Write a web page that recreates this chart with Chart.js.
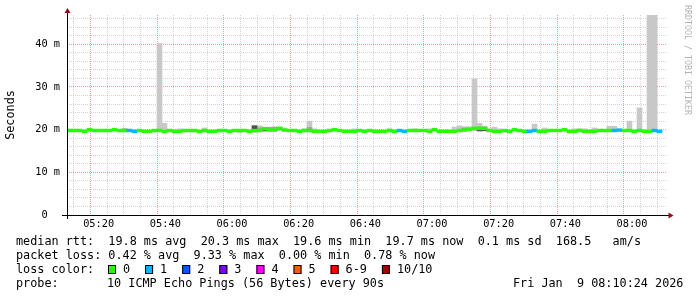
<!DOCTYPE html>
<html><head><meta charset="utf-8">
<script src="https://cdn.jsdelivr.net/npm/chart.js@4.4.1/dist/chart.umd.min.js"></script>
<style>html,body{margin:0;padding:0;background:#fff;}canvas{display:block;}</style>
</head><body>
<canvas id="c" width="697" height="297"></canvas>
<script>
// ---- data ----
const firstStep = '05:10:30';      // start of first 90 s step
const axisStart = '05:10:24';
const axisEnd = '08:10:24';
const stepMinutes = 1.5;
const xTickLabels = ['05:20','05:40','06:00','06:20','06:40','07:00','07:20','07:40','08:00'];
const xMinorEvery = 5;
const yTickValues = [0,10,20,30,40];
const yTickLabels = ['0  ','10 m','20 m','30 m','40 m'];
const yMinorEvery = 2;
const yMax = 46.87;

// median rtt per step (ms)
const median = [
 19.8,19.8,19.8,19.6,20.0,19.8,19.8,19.8,19.8,20.0,
 19.8,19.8,19.8,19.6,19.8,19.6,19.6,19.8,19.8,19.6,
 19.8,19.6,19.6,19.8,19.8,19.8,19.6,19.8,19.6,19.6,
 19.8,19.8,19.6,19.8,19.8,19.8,19.6,19.8,19.8,20.2,
 19.9,19.9,20.3,19.9,19.8,19.8,19.6,19.8,19.8,19.6,
 19.6,19.6,19.8,20.0,19.8,19.6,19.6,19.6,19.8,19.6,
 19.8,19.6,19.6,19.6,19.8,19.6,19.8,19.6,19.8,19.8,
 19.8,19.8,19.6,20.0,19.6,19.6,19.6,19.6,19.8,19.9,
 20.1,20.3,20.3,20.3,19.8,19.6,19.6,19.8,19.6,20.0,
 19.8,19.6,19.6,19.8,19.6,19.6,19.8,19.8,19.8,20.0,
 19.6,19.6,19.8,19.6,19.6,19.6,19.8,19.8,19.8,19.8,
 19.9,19.8,19.8,19.6,19.8,19.6,19.6,19.8,19.6];
// lost pings (of 10) per step
const loss = [
 0,0,0,0,0,0,0,0,0,0,
 0,0,1,1,0,0,0,0,0,0,
 0,0,0,0,0,0,0,0,0,0,
 0,0,0,0,0,0,0,0,0,0,
 0,0,0,0,0,0,0,0,0,0,
 0,0,0,0,0,0,0,0,0,0,
 0,0,0,0,0,0,1,1,0,0,
 0,0,0,0,0,0,0,0,0,0,
 0,0,0,0,0,0,0,0,0,0,
 0,0,1,1,0,0,0,0,0,0,
 0,0,0,0,0,0,0,0,0,1,
 1,0,0,0,0,0,0,1,1];
// smoke: fastest / slowest ping per step (ms)
const smokeLo = [
 19.7,19.7,19.7,19.5,19.9,19.7,19.7,19.7,19.7,19.9,
 19.7,19.7,19.7,19.5,19.7,19.5,19.5,19.7,19.7,19.5,
 19.7,19.5,19.5,19.7,19.7,19.7,19.5,19.7,19.5,19.5,
 19.7,19.7,19.5,19.7,19.3,19.7,19.4,19.4,19.6,19.7,
 19.8,19.8,19.8,19.8,19.7,19.7,19.5,19.7,19.7,19.5,
 19.5,19.5,19.7,19.9,19.7,19.5,19.5,19.5,19.7,19.5,
 19.7,19.5,19.5,19.5,19.7,19.5,19.7,19.5,19.7,19.7,
 19.7,19.7,19.5,19.9,19.5,19.5,19.5,19.5,19.7,19.8,
 19.8,19.8,19.7,19.7,19.7,19.5,19.5,19.7,19.5,19.9,
 19.7,19.5,19.5,19.7,19.5,19.5,19.7,19.7,19.7,19.9,
 19.5,19.5,19.7,19.5,19.5,19.5,19.7,19.7,19.7,19.7,
 19.8,19.7,19.7,19.5,19.7,19.5,19.5,19.7,19.5];
const smokeHi = [
 19.9,20.1,19.9,19.7,20.1,19.9,19.9,19.9,19.9,20.1,
 19.9,20.2,20.1,19.7,19.9,19.7,19.7,19.9,40.2,21.5,
 19.9,19.7,20.2,19.9,19.9,19.9,19.7,20.4,19.7,19.7,
 19.9,19.9,19.7,19.9,19.9,19.9,20.0,21.0,20.9,20.6,
 20.6,20.6,20.6,20.4,19.9,19.9,19.7,20.2,22.0,20.2,
 19.7,19.7,19.9,20.1,19.9,19.7,19.7,20.2,19.9,19.7,
 19.9,19.7,19.7,19.7,20.2,19.7,19.9,19.7,19.9,20.2,
 19.9,19.9,20.2,20.2,19.7,19.7,19.7,20.6,20.9,20.7,
 20.7,31.9,21.5,20.8,20.2,20.6,20.2,19.9,19.7,20.1,
 19.9,19.7,19.7,21.3,19.7,20.4,19.9,19.9,19.9,20.1,
 19.7,20.2,20.2,20.2,19.7,20.4,19.9,19.9,20.8,20.8,
 20.0,19.9,22.0,19.7,25.1,19.7,47.0,47.0,19.7];
// denser inner smoke bands
const midStep = [11,38,40,41,42,48,79,82,83];
const midLo   = [19.8,19.7,19.8,19.8,19.9,19.7,19.8,19.8,19.8];
const midHi   = [20.2,20.4,20.5,20.6,20.5,20.5,20.4,20.6,20.5];
const darkStep = [37,39,82,83];
const darkLo   = [19.5,19.7,19.7,19.75];
const darkHi   = [20.9,19.9,20.0,20.0];

const lossLabels = ['0','1','2','3','4','5','6-9','10/10'];
const rttStats = ['19.8 ms avg','20.3 ms max','19.6 ms min','19.7 ms now','0.1 ms sd','168.5   am/s'];
const lossStats = ['0.42 % avg','9.33 % max','0.00 % min','0.78 % now'];
const probeText = '10 ICMP Echo Pings (56 Bytes) every 90s';
const dateText = 'Fri Jan  9 08:10:24 2026';
const yTitle = 'Seconds';
const watermark = 'RRDTOOL / TOBI OETIKER';

// ---- helpers ----
const lossPalette = ['#26ff00','#00b8ff','#0059ff','#7e00ff','#ff00f8','#ff5e00','#ff0000','#a10000'];
function lossColor(n){ if(n<=0) return lossPalette[0]; if(n<=5) return lossPalette[n]; if(n<10) return lossPalette[6]; return lossPalette[7]; }
function toMin(s){ const p=s.split(':').map(Number); return p[0]*60+p[1]+(p[2]||0)/60; }
const t0 = toMin(firstStep);
const stepX = median.map((_,i)=> t0 + stepMinutes*i + stepMinutes/2);
const xMin = toMin(firstStep), xMax = xMin + toMin(axisEnd) - toMin(axisStart);
const xLabelMins = xTickLabels.map(toMin);
const MONO = "'DejaVu Sans Mono', monospace";
const halfLine = 0.33;
const MAJOR = 'rgba(255,0,0,0.4)';
const MINOR = 'rgba(170,170,170,0.5)';

const medianData = median.map((m,i)=>({x:stepX[i], y:[m-halfLine, m+halfLine]}));
const smokeData = median.map((_,i)=>({x:stepX[i], y:[smokeLo[i], smokeHi[i]]}));
const midData = midStep.map((s,k)=>({x:stepX[s], y:[midLo[k], midHi[k]]}));
const darkData = darkStep.map((s,k)=>({x:stepX[s], y:[darkLo[k], darkHi[k]]}));

const barCommon = {type:'bar', grouped:false, barPercentage:1, categoryPercentage:1, borderWidth:0, borderSkipped:false};

const deco = {
  id:'deco',
  afterDraw(chart){
    const ctx = chart.ctx, a = chart.chartArea;
    ctx.save();
    // axes
    ctx.strokeStyle = '#000'; ctx.lineWidth = 1;
    ctx.beginPath(); ctx.moveTo(a.left-5, a.bottom+0.5); ctx.lineTo(a.right+2, a.bottom+0.5); ctx.stroke();
    ctx.beginPath(); ctx.moveTo(a.left+0.5, a.bottom+4); ctx.lineTo(a.left+0.5, a.top-2); ctx.stroke();
    ctx.fillStyle = '#8b1010';
    ctx.beginPath(); ctx.moveTo(a.right+1.5, a.bottom-2.5); ctx.lineTo(a.right+6.5, a.bottom+0.5); ctx.lineTo(a.right+1.5, a.bottom+3.5); ctx.closePath(); ctx.fill();
    ctx.beginPath(); ctx.moveTo(a.left-2.5, a.top-2); ctx.lineTo(a.left+0.5, a.top-7); ctx.lineTo(a.left+3.5, a.top-2); ctx.closePath(); ctx.fill();
    // watermark
    ctx.save();
    ctx.translate(687, 5); ctx.rotate(Math.PI/2);
    ctx.fillStyle = '#b4b4b4'; ctx.font = '8.3px ' + MONO; ctx.textBaseline = 'middle'; ctx.textAlign = 'left';
    ctx.fillText(watermark, 0, 0);
    ctx.restore();
    // legend text
    ctx.fillStyle = '#000'; ctx.font = '11.8px ' + MONO; ctx.textBaseline = 'middle'; ctx.textAlign = 'left';
    const lx = 16;
    ctx.fillText('median rtt:  ' + rttStats.join('  '), lx, 241.5);
    ctx.fillText('packet loss: ' + lossStats.join('  '), lx, 255.5);
    ctx.fillText('loss color:', lx, 269.5);
    let bx = 108;
    lossLabels.forEach((lbl, k)=>{
      ctx.fillStyle = lossPalette[k];
      ctx.fillRect(bx, 265, 8, 9);
      ctx.strokeStyle = '#000'; ctx.strokeRect(bx+0.5, 265.5, 7, 8);
      ctx.fillStyle = '#000';
      ctx.fillText(lbl, bx+15, 269.5);
      bx += 15 + ctx.measureText(lbl).width + 15;
    });
    ctx.fillText('probe:', lx, 283.5);
    ctx.fillText(probeText, 107, 283.5);
    ctx.fillText(dateText, 513, 283.5);
    ctx.restore();
  }
};

new Chart(document.getElementById('c'), {
  data: {
    datasets: [
      Object.assign({}, barCommon, {label:'median', data:medianData, order:0,
        backgroundColor: ctx => lossColor(loss[ctx.dataIndex])}),
      Object.assign({}, barCommon, {label:'dark', data:darkData, order:1, backgroundColor:'#505050'}),
      Object.assign({}, barCommon, {label:'mid', data:midData, order:2, backgroundColor:'#a0a0a0'}),
      Object.assign({}, barCommon, {label:'smoke', data:smokeData, order:3, backgroundColor:'#c8c8c8'})
    ]
  },
  options: {
    responsive:false, animation:false, devicePixelRatio:1,
    layout:{padding:{left:0, right:30, top:15, bottom:0}},
    plugins:{legend:{display:false}, tooltip:{enabled:false}},
    scales:{
      x:{
        type:'linear', min:xMin, max:xMax, offset:false,
        afterFit: s => { s.height = 82; },
        afterBuildTicks: s => {
          const t = [];
          for (let v = Math.ceil(xMin/xMinorEvery)*xMinorEvery; v <= xMax; v += xMinorEvery) t.push({value:v});
          s.ticks = t;
        },
        grid:{drawTicks:false, lineWidth:1,
          color: c => (c.tick && xLabelMins.includes(c.tick.value)) ? MAJOR : MINOR},
        border:{display:false, dash:[1,1]},
        ticks:{autoSkip:false, maxRotation:0, minRotation:0, padding:3, color:'#000',
          font:{family:MONO, size:10.3},
          callback: v => { const k = xLabelMins.indexOf(v); return k >= 0 ? xTickLabels[k] : ''; }}
      },
      y:{
        type:'linear', min:0, max:yMax,
        afterFit: s => { s.width = 67; },
        afterBuildTicks: s => {
          const t = [];
          for (let v = 0; v <= yMax; v += yMinorEvery) t.push({value:v});
          s.ticks = t;
        },
        grid:{drawTicks:false, lineWidth:1,
          color: c => (c.tick && yTickValues.includes(c.tick.value)) ? MAJOR : MINOR},
        border:{display:false, dash:[1,1]},
        title:{display:true, text:yTitle, color:'#000', font:{family:MONO, size:11.8}, padding:{top:4, bottom:0}},
        ticks:{autoSkip:false, padding:7, color:'#000', font:{family:MONO, size:10.3},
          callback: v => { const k = yTickValues.indexOf(v); return k >= 0 ? yTickLabels[k] : ''; }}
      }
    }
  },
  plugins:[deco]
});
</script>
</body></html>
